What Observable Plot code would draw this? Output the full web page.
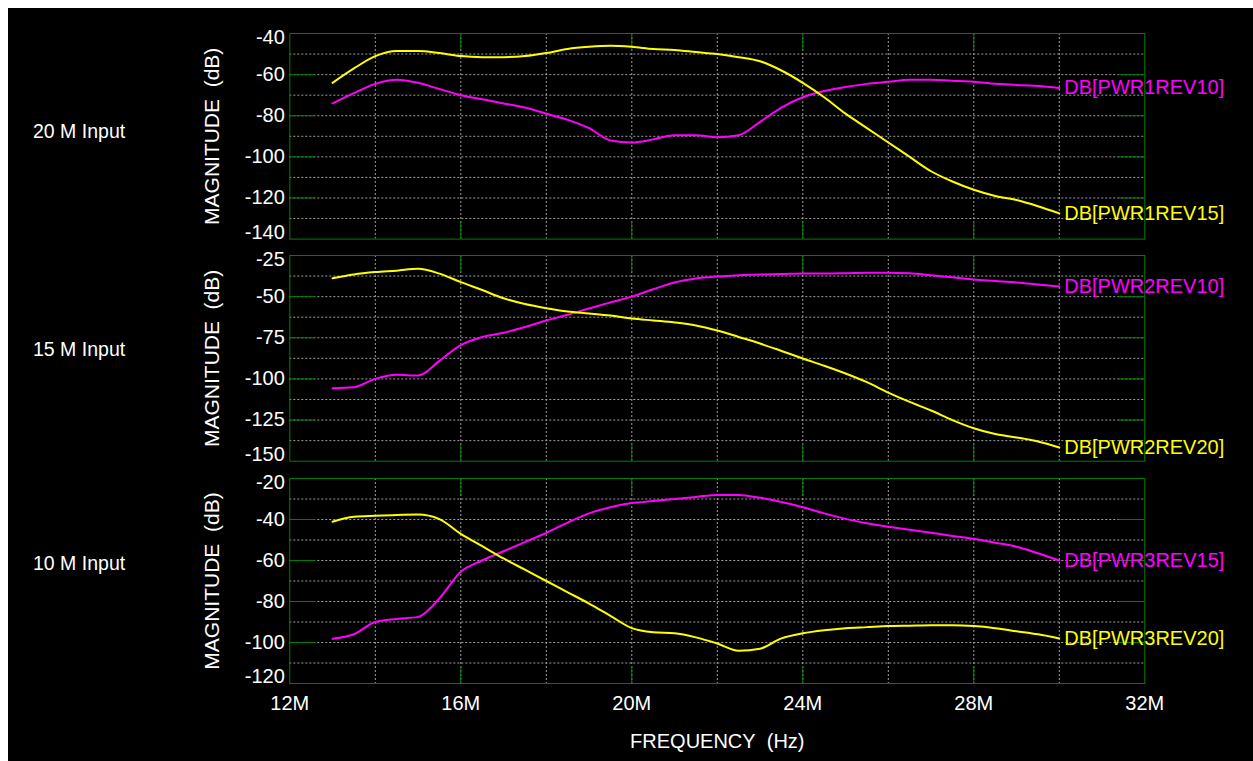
<!DOCTYPE html>
<html>
<head>
<meta charset="utf-8">
<script src="https://cdn.jsdelivr.net/npm/d3@7"></script>
<script src="https://cdn.jsdelivr.net/npm/@observablehq/plot@0.6"></script>
<style>
html,body{margin:0;padding:0;background:#fff;overflow:hidden;width:1253px;height:761px;position:relative}
#bg{position:absolute;left:8px;top:8px;right:0;bottom:0;background:#000}
.panel{position:absolute;left:0}
.title{position:absolute;left:33px;color:#fff;font:19.5px Arial,"Liberation Sans",sans-serif;transform:translateY(-50%);white-space:nowrap}
</style>
</head>
<body>
<div id="bg"></div>
<script>
// Frequency in MHz
const freqs = [13,13.5,14,14.5,15,15.5,16,16.5,17,17.5,18,18.5,19,19.5,20,20.5,21,21.5,22,22.5,23,23.5,24,24.5,25,25.5,26,26.5,27,27.5,28,28.5,29,29.5,30];

// 20 M Input
const pwr1Rev10 = [-74,-69,-64.5,-62.5,-64,-67,-70,-72,-74,-76,-79,-82,-86,-92,-93,-91.5,-89.5,-89.5,-90.5,-89.5,-83,-76,-71,-68,-66,-64.5,-63.5,-62.5,-62.5,-63,-63.5,-64.5,-65,-65.5,-66.5];
const pwr1Rev15 = [-64,-57,-51,-48.5,-48.5,-49.5,-51,-51.5,-51.5,-51,-49.5,-47.5,-46.5,-46,-46.5,-47.5,-48,-49,-50,-51.5,-53.5,-58,-64,-71,-79,-86,-93,-100,-107,-112,-116,-119,-121,-124,-127.5];

// 15 M Input
const pwr2Rev10 = [-105.6,-105,-100,-97.5,-98,-89,-79.5,-74.5,-72,-68.5,-64.5,-61,-57.2,-53.5,-50,-45.5,-41.4,-39,-37.8,-37,-36.5,-36.3,-36,-36,-35.8,-35.5,-35.5,-35.8,-37,-38.2,-39.6,-40.5,-41.4,-42.6,-43.8];
const pwr2Rev20 = [-38.8,-36.5,-35.1,-34.2,-33.1,-36,-41.2,-46,-51,-54.5,-57,-59,-60.2,-61.5,-63.3,-64.5,-65.7,-67.5,-70.6,-74.5,-78.5,-83,-87.6,-92,-96.7,-102,-108.3,-114,-119.2,-125,-130,-133.5,-135.6,-138,-141.7];

// 10 M Input
const pwr3Rev15 = [-98.2,-96,-90,-88.5,-87.5,-78.5,-65.5,-60,-55.5,-51,-46.5,-41.5,-37,-34,-32,-31,-30,-29,-28,-28,-29.4,-31.5,-34,-37,-39.7,-41.8,-43.5,-45,-46.5,-48,-49.4,-51.3,-53.3,-56.5,-60];
const pwr3Rev20 = [-41.1,-38.7,-38.2,-37.8,-37.6,-39.8,-47,-53,-59,-64.5,-70,-75.5,-81,-87,-93,-95,-95.5,-97.5,-100.5,-104,-103,-98,-95.5,-94,-93,-92.5,-92,-91.8,-91.6,-91.6,-92,-93,-94.5,-96,-98];

const xTicks = [12,16,20,24,28,32];
const xGrid = [14,16,18,20,22,24,26,28,30];
const xMajor = [16,20,24,28];

const yTicks1 = [-40,-60,-80,-100,-120,-140];
const yGrid1 = [-50,-60,-70,-80,-90,-100,-110,-120,-130];
const yTicks2 = [-25,-50,-75,-100,-125,-150];
const yGrid2 = [-37.5,-50,-62.5,-75,-87.5,-100,-112.5,-125,-137.5];
const yTicks3 = [-20,-40,-60,-80,-100,-120];
const yGrid3 = [-30,-40,-50,-60,-70,-80,-90,-100,-110];

const titles = ["20 M Input","15 M Input","10 M Input"];
const seriesNames = [["DB[PWR1REV10]","DB[PWR1REV15]"],["DB[PWR2REV10]","DB[PWR2REV20]"],["DB[PWR3REV15]","DB[PWR3REV20]"]];

const YEL = "#ffff00", MAG = "#ff00ff", GREEN = "#008000", DOT = "#a0a0a0";
const FONT = 'Arial, "Liberation Sans", sans-serif';

const W = 1253, ML = 289.3, MR = W - 1144.3;
const plotW = W - ML - MR;

const panels = [
  {title: titles[0], top: 32.7, h: 205.6, titleY: 131, ticks: yTicks1, grid: yGrid1,
   series: [{name: seriesNames[0][0], values: pwr1Rev10, color: MAG}, {name: seriesNames[0][1], values: pwr1Rev15, color: YEL}]},
  {title: titles[1], top: 255, h: 205.7, titleY: 349, ticks: yTicks2, grid: yGrid2,
   series: [{name: seriesNames[1][0], values: pwr2Rev10, color: MAG}, {name: seriesNames[1][1], values: pwr2Rev20, color: YEL}]},
  {title: titles[2], top: 477.7, h: 205, titleY: 563, ticks: yTicks3, grid: yGrid3, bottom: true,
   series: [{name: seriesNames[2][0], values: pwr3Rev15, color: MAG}, {name: seriesNames[2][1], values: pwr3Rev20, color: YEL}]}
];

panels.forEach(p => {
  const mt = 10, mb = p.bottom ? 75 : 10;
  const majors = p.ticks.slice(1, -1);
  const marks = [
    Plot.gridX(xGrid, {stroke: DOT, strokeOpacity: 1, strokeDasharray: "2,2"}),
    Plot.gridY(p.grid, {stroke: DOT, strokeOpacity: 1, strokeDasharray: "2,2"}),
    Plot.tickY(majors, {y: d => d, stroke: GREEN, insetRight: plotW - 26}),
    Plot.tickY(majors, {y: d => d, stroke: GREEN, insetLeft: plotW - 26}),
    Plot.tickX(xMajor, {x: d => d, stroke: GREEN, insetBottom: p.h - 17}),
    Plot.tickX(xMajor, {x: d => d, stroke: GREEN, insetTop: p.h - 17}),
    Plot.frame({stroke: GREEN}),
    Plot.text(p.ticks.slice(1, -1), {y: d => d, frameAnchor: "left", dx: -5, textAnchor: "end", lineAnchor: "middle", text: d => String(d), fill: "#fff", fontSize: 20}),
    Plot.text([p.ticks[0]], {y: d => d, frameAnchor: "left", dx: -5, dy: 4.5, textAnchor: "end", lineAnchor: "middle", text: d => String(d), fill: "#fff", fontSize: 20}),
    Plot.text([p.ticks[p.ticks.length - 1]], {y: d => d, frameAnchor: "left", dx: -5, dy: -7, textAnchor: "end", lineAnchor: "middle", text: d => String(d), fill: "#fff", fontSize: 20}),
    Plot.text(["MAGNITUDE\u00a0 (dB)"], {frameAnchor: "left", dx: -78, rotate: -90, textAnchor: "middle", lineAnchor: "middle", text: d => d, fill: "#fff", fontSize: 21})
  ];
  p.series.forEach(s => {
    const data = freqs.map((f, i) => ({f, v: s.values[i]}));
    marks.push(Plot.line(data, {x: "f", y: "v", stroke: s.color, strokeWidth: 2, curve: "monotone-x"}));
  });
  p.series.forEach(s => {
    const last = {f: freqs[freqs.length - 1], v: s.values[s.values.length - 1], name: s.name};
    marks.push(Plot.text([last], {x: "f", y: "v", text: "name", dx: 5, textAnchor: "start", lineAnchor: "middle", fill: s.color, fontSize: 20}));
  });
  if (p.bottom) {
    marks.push(Plot.text(xTicks, {x: d => d, frameAnchor: "bottom", dy: 20.3, lineAnchor: "middle", text: d => d + "M", fill: "#fff", fontSize: 20}));
    marks.push(Plot.text(["FREQUENCY\u00a0 (Hz)"], {frameAnchor: "bottom", dy: 58.3, lineAnchor: "middle", text: d => d, fill: "#fff", fontSize: 20}));
  }
  const chart = Plot.plot({
    width: W,
    height: mt + p.h + mb,
    marginLeft: ML, marginRight: MR, marginTop: mt, marginBottom: mb,
    x: {domain: [12, 32], axis: null},
    y: {domain: [p.ticks[p.ticks.length - 1], p.ticks[0]], axis: null},
    style: {background: "transparent", color: "#fff", fontFamily: FONT, fontSize: "20px", overflow: "visible", maxWidth: "none"},
    marks
  });
  const div = document.createElement("div");
  div.className = "panel";
  div.style.top = (p.top - mt) + "px";
  div.appendChild(chart);
  document.body.appendChild(div);

  const t = document.createElement("div");
  t.className = "title";
  t.style.top = p.titleY + "px";
  t.textContent = p.title;
  document.body.appendChild(t);
});
</script>
</body>
</html>
